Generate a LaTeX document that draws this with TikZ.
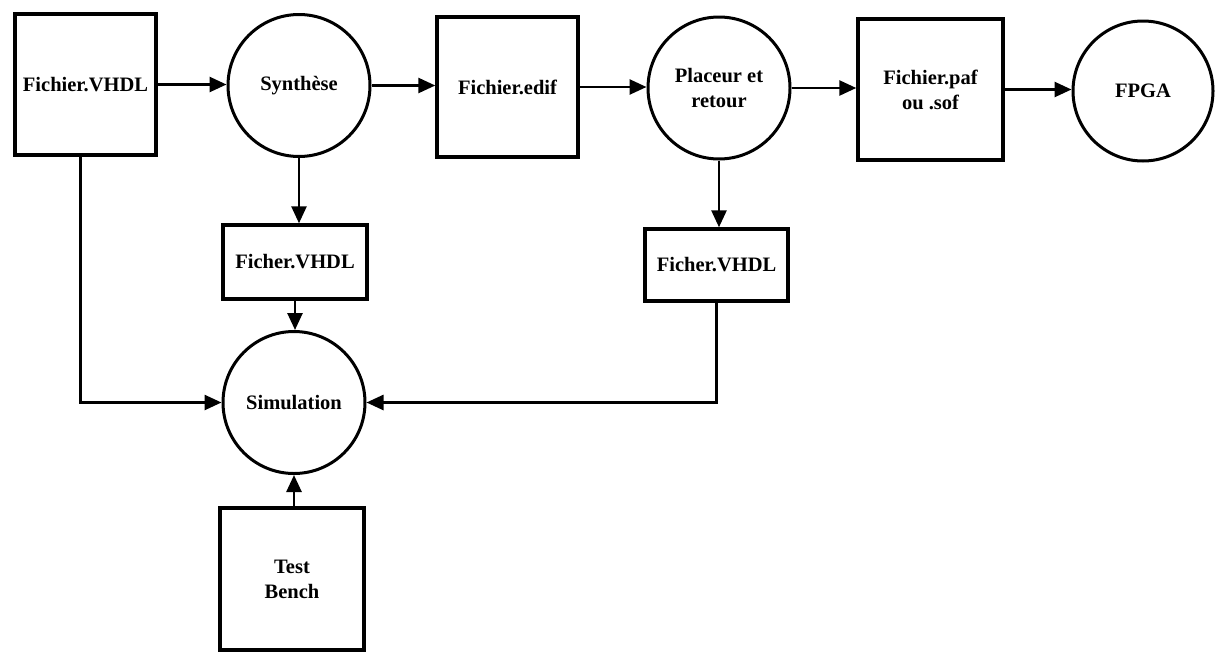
\documentclass[tikz,border=0pt]{standalone}
\usepackage{fontspec}
\setmainfont{Liberation Serif}
\usetikzlibrary{arrows.meta}
\begin{document}
\begin{tikzpicture}[x=1pt,y=-1pt,
  every node/.style={font=\bfseries\fontsize{20.5}{25}\selectfont, align=center, inner sep=0pt},
  filebox/.style={draw, rectangle, line width=3.4pt},
  procnode/.style={draw, circle, line width=3pt, minimum size=142pt},
  flow/.style={line width=2.6pt, -{Triangle[length=17pt,width=15pt]}},
  link/.style={line width=2.6pt}]
\useasboundingbox (0,0) rectangle (1216,651);

% top row of the design flow
\node[filebox, minimum width=141pt, minimum height=141pt] (vhdl) at (85.5,84.5) {Fichier.VHDL};
\node[procnode] (syn) at (299,85.5) {Synthèse};
\node[filebox, minimum width=141pt, minimum height=140pt] (edif) at (507.5,87) {Fichier.edif};
\node[procnode] (plac) at (719,88) {Placeur et\\retour};
\node[filebox, minimum width=145pt, minimum height=141pt] (paf) at (930.5,89.5) {Fichier.paf\\ou .sof};
\node[procnode, minimum size=140pt] (fpga) at (1143,91) {FPGA};

% intermediate VHDL files
\node[filebox, minimum width=144pt, minimum height=74pt] (fv1) at (295,262) {Ficher.VHDL};
\node[filebox, minimum width=143pt, minimum height=72pt] (fv2) at (716.5,265) {Ficher.VHDL};

% simulation and its test bench
\node[procnode] (sim) at (294,402.5) {Simulation};
\node[filebox, minimum width=144pt, minimum height=142pt] (tb) at (292,579) {Test\\Bench};

% main flow
\draw[flow] (vhdl.east) -- (vhdl.east -| syn.west);
\draw[flow] (syn.east) -- (syn.east -| edif.west);
\draw[flow] (edif.east) -- (edif.east -| plac.west);
\draw[flow] (plac.east) -- (plac.east -| paf.west);
\draw[flow] (paf.east) -- (paf.east -| fpga.west);

% outputs towards simulation
\draw[flow] (syn.south) -- (syn.south |- fv1.north);
\draw[flow] (plac.south) -- (plac.south |- fv2.north);
\draw[flow] (fv1.south) -- (fv1.south |- sim.north);
\draw[flow] ([xshift=-5pt]vhdl.south) |- (sim.west);
\draw[flow] (fv2.south) |- (sim.east);
\draw[flow] (sim.south |- tb.north) -- (sim.south);
\end{tikzpicture}
\end{document}
